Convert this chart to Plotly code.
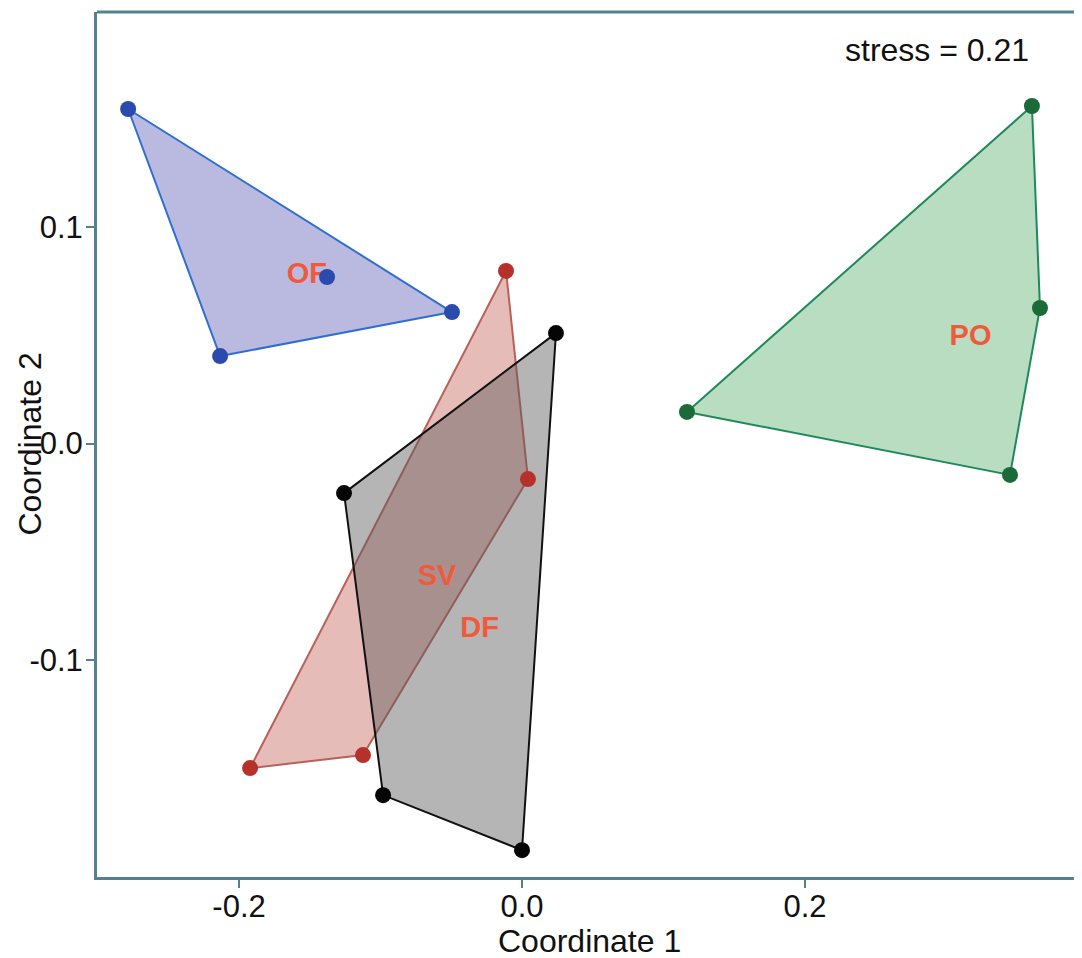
import plotly.graph_objects as go

# ---- data (NMDS scores per group) ----
groups = ["OF", "SV", "DF", "PO"]
of_x = [-0.2784, -0.0495, -0.2134, -0.1378]
of_y = [0.1545, 0.0607, 0.0404, 0.0769]
sv_x = [-0.0113, 0.0042, -0.1124, -0.1922]
sv_y = [0.0797, -0.0164, -0.1439, -0.1499]
df_x = [0.0240, 0.0000, -0.0982, -0.1258]
df_y = [0.0510, -0.1878, -0.1624, -0.0229]
po_x = [0.3604, 0.3661, 0.3449, 0.1166]
po_y = [0.1559, 0.0626, -0.0145, 0.0146]
label_x = [-0.152, -0.060, -0.030, 0.317]
label_y = [0.0775, -0.0621, -0.0861, 0.0490]
stress = 0.21
x_ticks = [-0.2, 0.0, 0.2]
y_ticks = [-0.1, 0.0, 0.1]

# ---- styles ----
line_cols = ["#2f6fd0", "#b8625a", "#111111", "#1e8a5a"]
fill_cols = ["rgba(140,140,205,0.6)", "rgba(190,80,70,0.38)",
             "rgba(90,90,90,0.45)", "rgba(60,160,80,0.36)"]
mark_cols = ["#2b4aad", "#b5312a", "#050505", "#1a6b38"]
draw_order = [0, 1, 2, 3]

xs = [of_x, sv_x, df_x, po_x]
ys = [of_y, sv_y, df_y, po_y]


def hull(px, py):
    pts = sorted(set(zip(px, py)))
    if len(pts) < 3:
        return pts

    def cross(o, a, b):
        return (a[0] - o[0]) * (b[1] - o[1]) - (a[1] - o[1]) * (b[0] - o[0])
    lower, upper = [], []
    for p in pts:
        while len(lower) >= 2 and cross(lower[-2], lower[-1], p) <= 0:
            lower.pop()
        lower.append(p)
    for p in reversed(pts):
        while len(upper) >= 2 and cross(upper[-2], upper[-1], p) <= 0:
            upper.pop()
        upper.append(p)
    return lower[:-1] + upper[:-1]


fig = go.Figure()
for i in draw_order:
    h = hull(xs[i], ys[i])
    hx = [p[0] for p in h] + [h[0][0]]
    hy = [p[1] for p in h] + [h[0][1]]
    fig.add_trace(go.Scatter(x=hx, y=hy, mode="lines", fill="toself",
                             fillcolor=fill_cols[i],
                             line=dict(color=line_cols[i], width=2),
                             hoverinfo="skip", showlegend=False))

fig.add_trace(go.Scatter(x=label_x, y=label_y, mode="text",
                         text=[f"<b>{g}</b>" for g in groups],
                         textfont=dict(family="Liberation Sans, Arial", size=29,
                                       color="#f05a3c"),
                         showlegend=False, hoverinfo="skip"))

for i in draw_order:
    fig.add_trace(go.Scatter(x=xs[i], y=ys[i], mode="markers",
                             marker=dict(color=mark_cols[i], size=16),
                             name=groups[i], showlegend=False))

axis_col = "#55808f"
font = dict(family="Liberation Sans, Arial", size=31, color="#111111")
tfont = dict(family="Liberation Sans, Arial", size=32, color="#111111")

fig.update_layout(
    width=1074, height=950,
    margin=dict(l=89, r=0, t=4, b=81),
    paper_bgcolor="white", plot_bgcolor="white",
    font=font,
    showlegend=False,
    xaxis=dict(range=[-0.3004, 0.3958], tickvals=x_ticks,
               ticktext=[f"{v:.1f}" for v in x_ticks],
               showgrid=False, zeroline=False, showline=True,
               linecolor=axis_col, linewidth=3, ticks="outside",
               ticklen=8, tickwidth=2, tickcolor=axis_col,
               tickfont=font, ticklabelstandoff=-8),
    yaxis=dict(range=[-0.2002, 0.1993], tickvals=y_ticks,
               ticktext=[f"{v:.1f}" for v in y_ticks],
               showgrid=False, zeroline=False, showline=True,
               linecolor=axis_col, linewidth=3, ticks="outside",
               ticklen=8, tickwidth=2, tickcolor=axis_col,
               tickfont=font, ticklabelstandoff=-3),
)

# top frame line
fig.add_shape(type="line", xref="paper", yref="paper", x0=0, x1=1, y0=1, y1=1,
              line=dict(color=axis_col, width=3))

fig.add_annotation(text=f"stress = {stress}", x=0.2933, y=0.1818,
                   xref="x", yref="y", showarrow=False, font=tfont)
fig.add_annotation(text="Coordinate 1", x=0.5, y=-0.0735, xref="paper",
                   yref="paper", showarrow=False, font=tfont,
                   xanchor="center", yanchor="middle")
fig.add_annotation(text="Coordinate 2", x=-0.069, y=0.5, xref="paper",
                   yref="paper", showarrow=False, font=tfont, textangle=-90,
                   xanchor="center", yanchor="middle")

fig.write_html("out.html")
